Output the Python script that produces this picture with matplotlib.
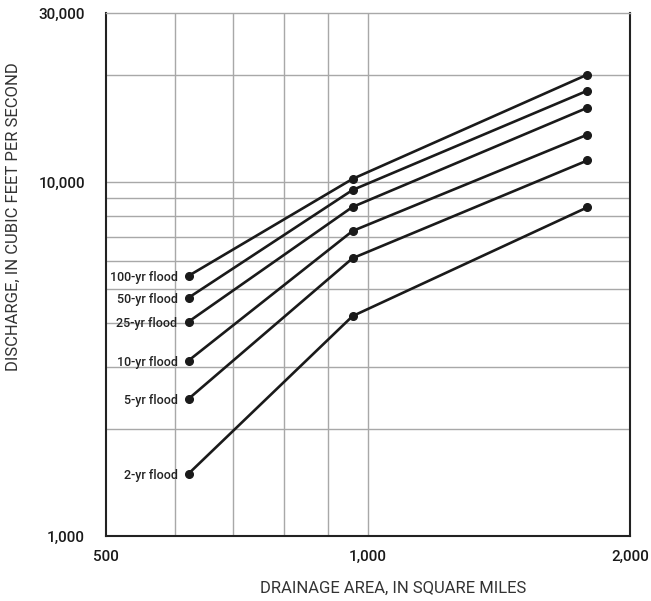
import matplotlib
matplotlib.use('Agg')
import matplotlib.pyplot as plt
from matplotlib.ticker import FixedLocator, NullFormatter, NullLocator

plt.rcParams['font.family'] = ['Roboto', 'DejaVu Sans']
plt.rcParams['font.weight'] = 'medium'

# drainage area of the three gages (sq mi)
area = [622, 960, 1787]

# discharge for each recurrence interval (cfs)
q100 = [5430, 10200, 20100]
q50 = [4710, 9490, 18100]
q25 = [4030, 8500, 16200]
q10 = [3130, 7270, 13600]
q5 = [2440, 6090, 11500]
q2 = [1500, 4180, 8480]

flood_labels = ['100-yr flood', '50-yr flood', '25-yr flood',
                '10-yr flood', '5-yr flood', '2-yr flood']
series = [q100, q50, q25, q10, q5, q2]

x_ticks = [500, 1000, 2000]
x_ticklabels = ['500', '1,000', '2,000']
y_ticks = [1000, 10000, 30000]
y_ticklabels = ['1,000', '10,000', '30,000']
x_grid = [600, 700, 800, 900, 1000]
y_grid = [2000, 3000, 4000, 5000, 6000, 7000, 8000, 9000, 10000, 20000]

fig = plt.figure(figsize=(6.51, 6.01), dpi=100)
ax = fig.add_axes([0.1628, 0.108, 0.8049, 0.8704])
ax.set_xscale('log')
ax.set_yscale('log')
ax.set_xlim(500, 2000)
ax.set_ylim(1000, 30000)

# grid lines
for g in x_grid:
    ax.axvline(g, color='#a8a8a8', lw=1.0, zorder=1)
for g in y_grid:
    ax.axhline(g, color='#a8a8a8', lw=1.0, zorder=1)

for q, lab in zip(series, flood_labels):
    ax.plot(area, q, color='#1a1a1a', lw=1.9, marker='o', ms=5.5, zorder=3)
    ax.annotate(lab, (area[0], q[0]), xytext=(-8, -1.5), textcoords='offset points',
                ha='right', va='center', fontsize=9, color='#222222')

ax.xaxis.set_major_locator(FixedLocator(x_ticks))
ax.xaxis.set_minor_locator(NullLocator())
ax.xaxis.set_minor_formatter(NullFormatter())
ax.set_xticklabels(x_ticklabels)
ax.yaxis.set_major_locator(FixedLocator(y_ticks))
ax.yaxis.set_minor_locator(NullLocator())
ax.yaxis.set_minor_formatter(NullFormatter())
ax.set_yticklabels(y_ticklabels)
ax.tick_params(length=0, labelsize=11, colors='#1a1a1a')
ax.tick_params(axis='x', pad=10)
ax.tick_params(axis='y', pad=15)

for s in ['left', 'bottom', 'right']:
    ax.spines[s].set_color('#222222')
    ax.spines[s].set_linewidth(1.5)
ax.spines['top'].set_color('#a8a8a8')
ax.spines['top'].set_linewidth(1.0)

ax.set_xlabel('DRAINAGE AREA, IN SQUARE MILES', fontsize=12, color='#333333',
              fontweight='normal')
ax.xaxis.set_label_coords(0.548, -0.085)
ax.set_ylabel('DISCHARGE, IN CUBIC FEET PER SECOND', fontsize=12, color='#333333',
              fontweight='normal')
ax.yaxis.set_label_coords(-0.163, 0.61)

fig.savefig('out.png', dpi=100)
